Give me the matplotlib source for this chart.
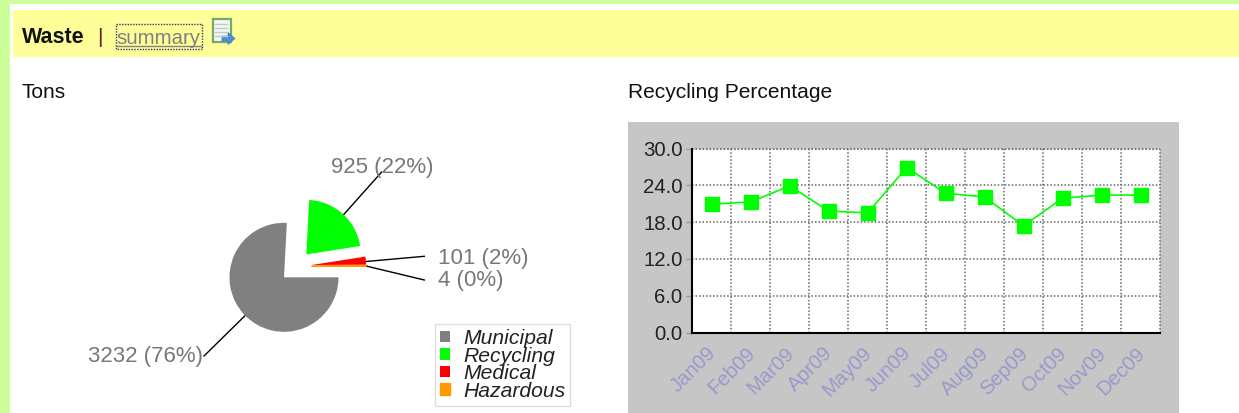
import matplotlib
matplotlib.use('Agg')
import matplotlib.pyplot as plt
from matplotlib.patches import Rectangle, Polygon

plt.rcParams['font.family'] = ['Liberation Sans', 'DejaVu Sans']

# Pie data
waste_names = ['Municipal', 'Recycling', 'Medical', 'Hazardous']
waste_tons = [3232, 925, 101, 4]
waste_share = [76, 22, 2, 0]
waste_colors = ['#808080', '#00ff00', '#ff0000', '#ff9900']

# Line data
months = ['Jan09', 'Feb09', 'Mar09', 'Apr09', 'May09', 'Jun09',
          'Jul09', 'Aug09', 'Sep09', 'Oct09', 'Nov09', 'Dec09']
recycling_pct = [20.9, 21.3, 23.9, 19.8, 19.5, 26.9,
                 22.7, 22.1, 17.4, 21.9, 22.4, 22.4]
y_ticks = [0, 6, 12, 18, 24, 30]

W, H = 1239, 413
fig = plt.figure(figsize=(W / 100, H / 100), dpi=100, facecolor='white')

# page background in pixel coordinates
bg = fig.add_axes([0, 0, 1, 1])
bg.set_xlim(0, W)
bg.set_ylim(H, 0)
bg.axis('off')
bg.add_patch(Rectangle((0, 0), W, 4, color='#ccff99', lw=0))
bg.add_patch(Rectangle((0, 0), 10, H, color='#ccff99', lw=0))
bg.add_patch(Rectangle((13, 10), W - 13, 47, color='#ffff99', lw=0))
bg.add_patch(Rectangle((628, 122), 551, H - 122, color='#c6c6c6', lw=0))

# header
bg.text(22, 43, 'Waste', fontsize=15.5, fontweight='bold', color='#111111', va='baseline')
bg.text(97.5, 43, '|', fontsize=15, color='#662222', va='baseline')
bg.text(116, 44, 'summary', fontsize=14.7, color='#808080', va='baseline')
bg.plot([116, 201], [46, 46], color='#808080', lw=1)
bg.add_patch(Rectangle((115.5, 24), 86, 24.5, fill=False, ec='#333377', lw=1, ls=(0, (1, 1))))

# little notebook icon
bg.add_patch(Rectangle((212.5, 19), 18.5, 23, fc='#f4f8f4', ec='#77a866', lw=1.6))
for yy in [24, 28, 32, 36]:
    bg.plot([215, 227], [yy, yy], color='#c0c8c8', lw=1)
bg.add_patch(Polygon([(222, 36), (228, 36), (228, 32.5), (235, 38.5), (228, 44.5), (228, 41), (222, 41)],
                     fc='#4a90d9', ec='#3a78c0', lw=0.5))

bg.text(22, 98, 'Tons', fontsize=15, color='#111111', va='baseline')
bg.text(628, 98, 'Recycling Percentage', fontsize=15.1, color='#111111', va='baseline')

# pie, scaled so one data unit is the radius in pixels
cx, cy, radius = 295.6, 266.3, 54.5
pie_ax = fig.add_axes([0, 0, 1, 1])
wedges, _ = pie_ax.pie(waste_tons, colors=waste_colors, startangle=0, counterclock=False,
                       explode=[16 / radius] * 4, wedgeprops={'lw': 0})
wedges[3].set_edgecolor(waste_colors[3])
wedges[3].set_linewidth(1)
pie_ax.set_xlim(-cx / radius, (W - cx) / radius)
pie_ax.set_ylim((cy - H) / radius, cy / radius)
pie_ax.patch.set_alpha(0)
pie_ax.axis('off')

# leader lines and labels
leaders = [((245.7, 315), (204, 356)), ((343.3, 215), (381.7, 172)),
           ((366, 261.5), (424.3, 256.3)), ((366, 266), (424.3, 280))]
label_pos = [(88, 362), (331, 173), (438, 264), (438, 286)]
for i in range(len(waste_names)):
    (x0, y0), (x1, y1) = leaders[i]
    bg.plot([x0, x1], [y0, y1], color='black', lw=1, zorder=5)
    bg.text(label_pos[i][0], label_pos[i][1], f'{waste_tons[i]} ({waste_share[i]}%)',
            fontsize=16, color='#777777', va='baseline', zorder=6)
bg.set_zorder(1)
pie_ax.set_zorder(2)
bg.patch.set_alpha(0)

leg = pie_ax.legend(wedges, waste_names, loc='upper left',
                    bbox_to_anchor=(435 / W, 1 - 324 / H), bbox_transform=fig.transFigure,
                    prop={'style': 'italic', 'size': 15.2}, fancybox=False, framealpha=1,
                    edgecolor='#dddddd', borderaxespad=0, borderpad=0.24,
                    labelspacing=-0.07, handlelength=0.48, handleheight=0.48, handletextpad=0.6)
leg.get_frame().set_linewidth(1)
for t in leg.get_texts():
    t.set_color('#222222')

# recycling percentage line chart
ax = fig.add_axes([692.3 / W, 1 - 332.5 / H, 467.7 / W, 184 / H], zorder=3)
ax.plot(range(len(months)), recycling_pct, color='#00ff00', lw=1.2, marker='s', markersize=10,
        markerfacecolor='#00ff00', markeredgecolor='#00ff00', zorder=3, clip_on=False)
ax.set_xlim(-0.5, len(months) - 0.5)
ax.set_ylim(0, 30)
ax.set_yticks(y_ticks)
ax.set_yticklabels([f'{v:.1f}' for v in y_ticks], fontsize=14.7, color='#222222', va='center_baseline')
ax.set_xticks([i + 0.5 for i in range(len(months) - 1)], minor=False)
ax.set_xticklabels([])
ax.grid(True, color='#666666', lw=1.1, ls=(0, (1, 1.3)))
ax.tick_params(axis='x', length=0)
ax.tick_params(axis='y', length=4, width=1, color='#999999', pad=3)
ax.spines['top'].set_visible(False)
ax.spines['right'].set_visible(False)
ax.plot([1, 1], [0, 1], transform=ax.transAxes, color='#666666', lw=1.1, ls=(0, (1, 1.3)), clip_on=False)
ax.plot([0, 1], [1, 1], transform=ax.transAxes, color='#666666', lw=1.1, ls=(0, (1, 1.3)), clip_on=False)
ax.spines['left'].set_linewidth(1.5)
ax.spines['bottom'].set_linewidth(1.5)
for i, m in enumerate(months):
    ax.annotate(m, (i, 0), xytext=(-4, -8), textcoords='offset points', xycoords='data',
                rotation=45, rotation_mode='anchor', ha='right', va='top',
                fontsize=14.7, color='#9999cc')

fig.savefig('out.png', dpi=100)
